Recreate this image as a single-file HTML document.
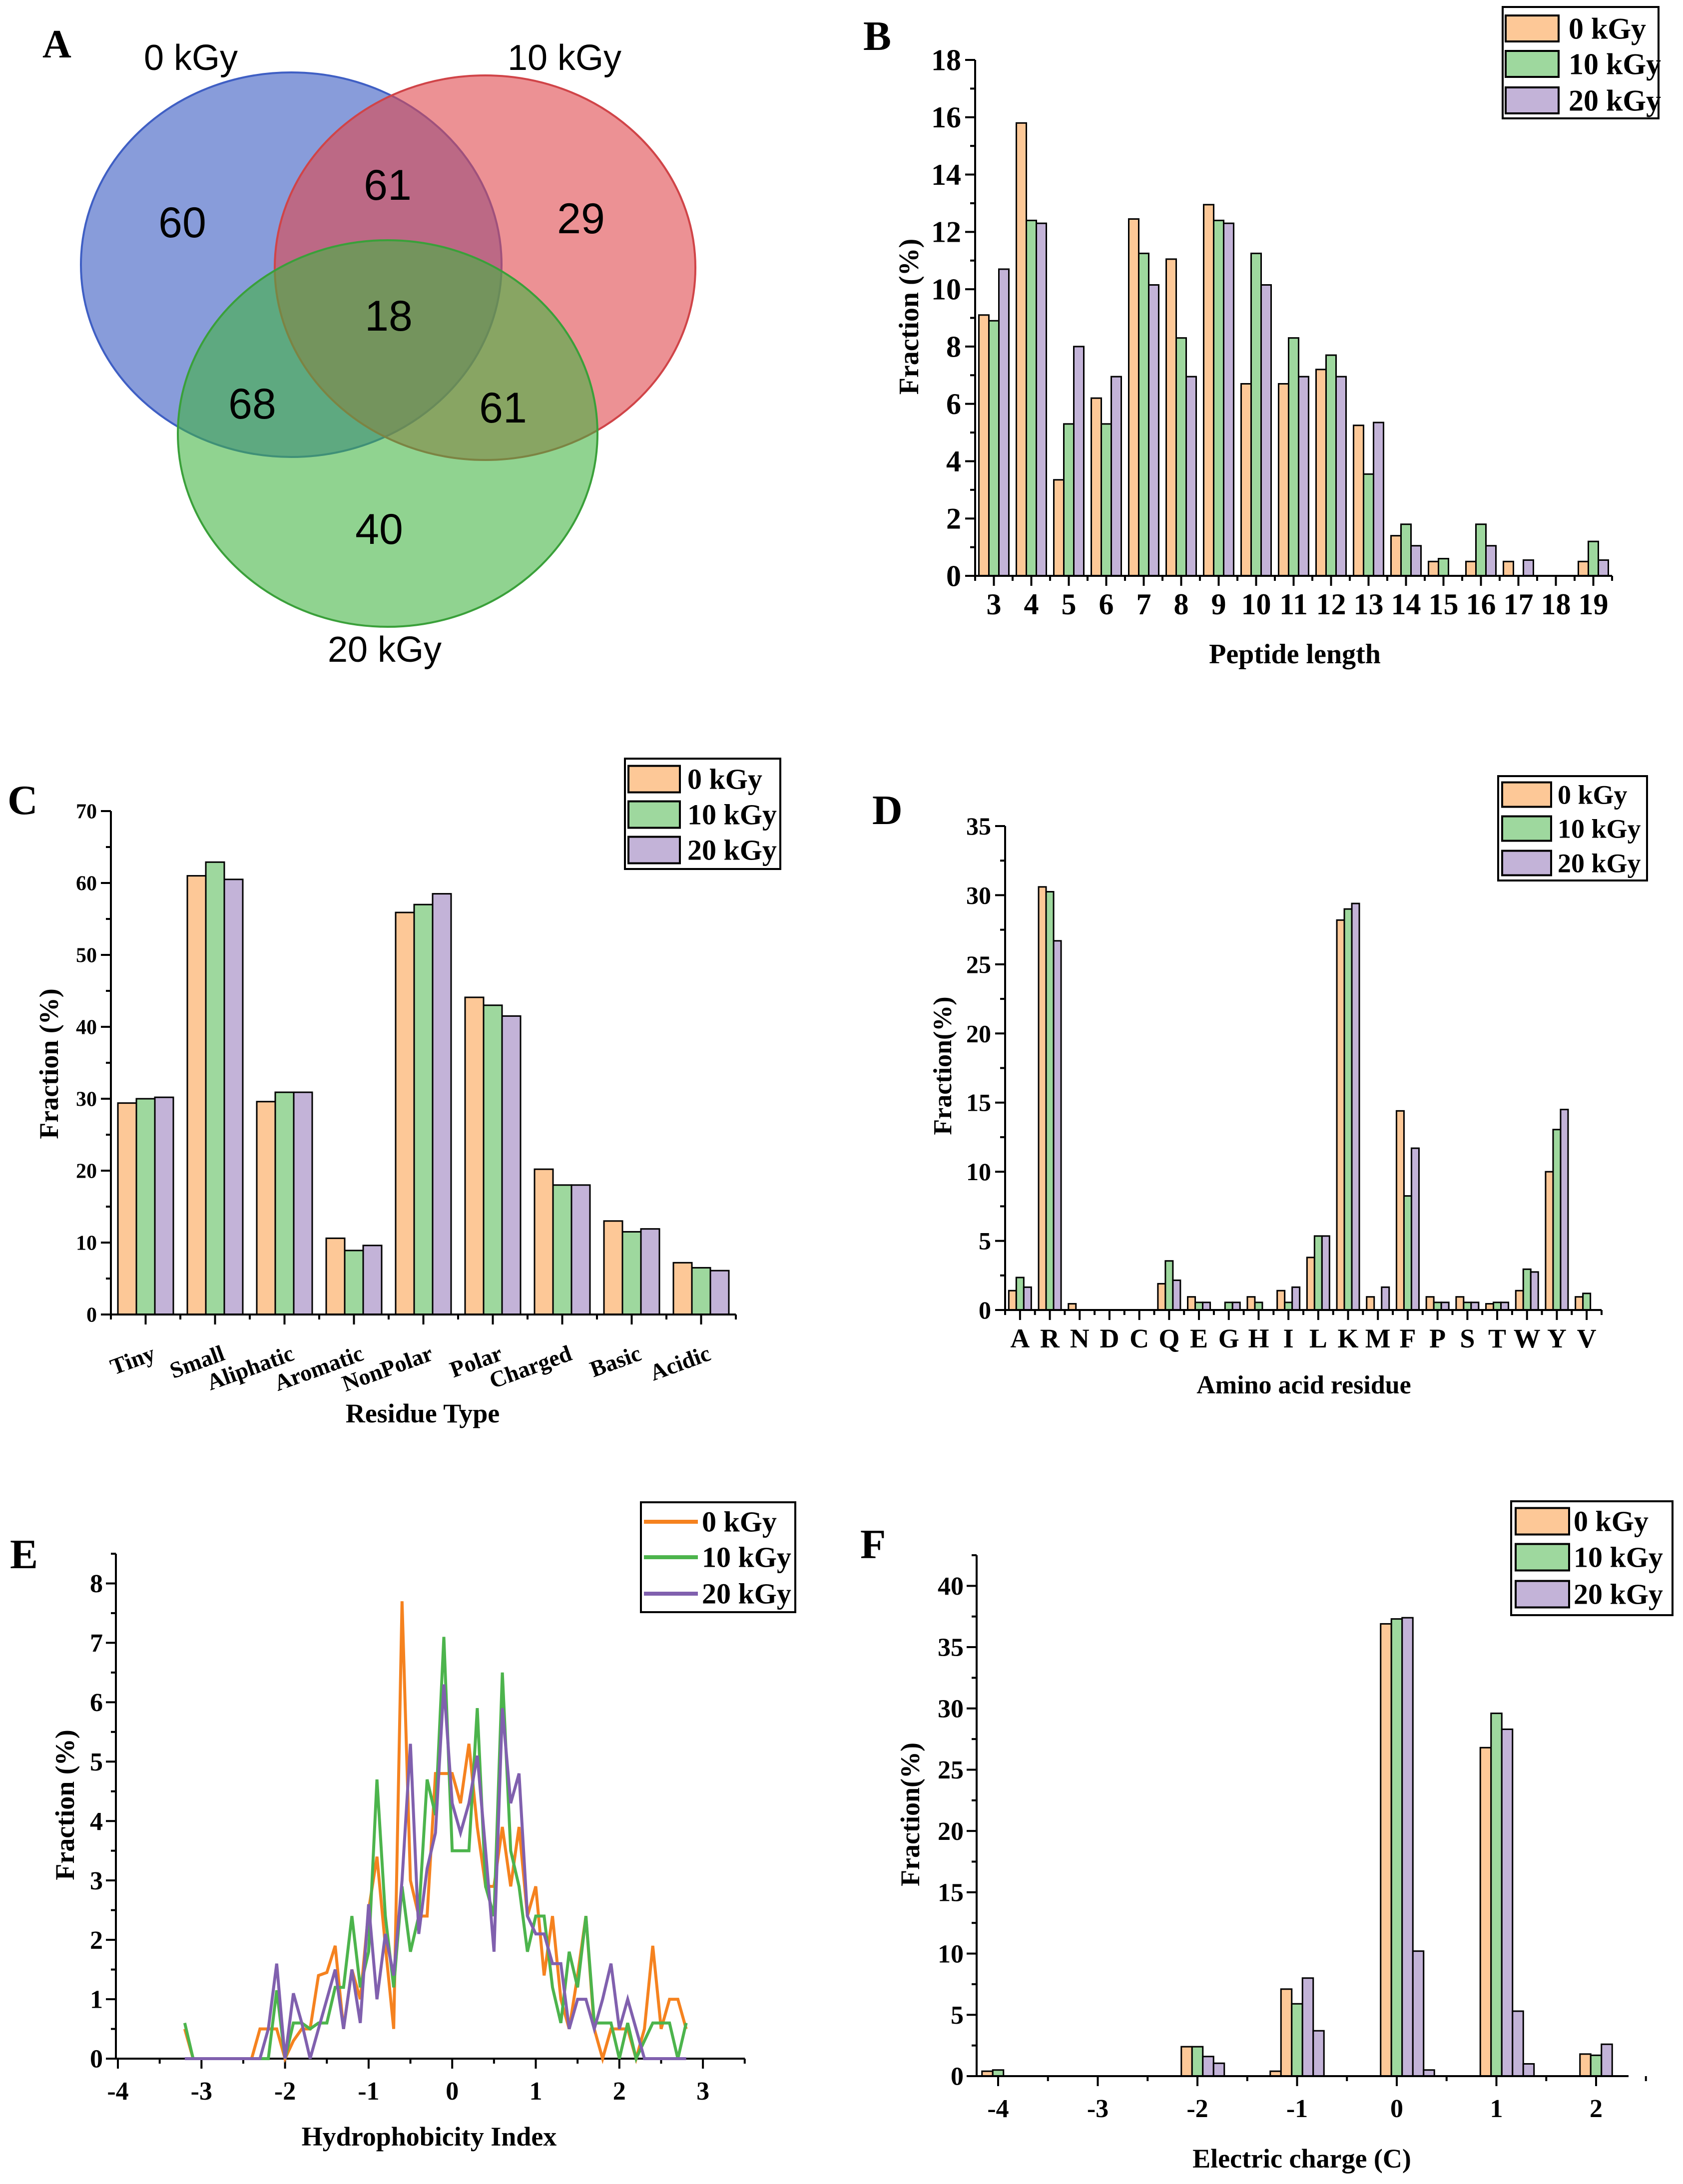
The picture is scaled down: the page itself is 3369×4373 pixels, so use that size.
<!DOCTYPE html>
<html><head><meta charset="utf-8"><style>
html,body{margin:0;padding:0;background:#fff}
svg{display:block}
text{font-family:"Liberation Serif",serif;font-weight:bold;fill:#000}
.sans{font-family:"Liberation Sans",sans-serif;font-weight:normal}
</style></head><body>
<svg id="fig" xmlns="http://www.w3.org/2000/svg" width="3369" height="4373" viewBox="0 0 3369 4373">
<g id="venn">
<ellipse cx="583" cy="530" rx="421" ry="385" fill="#3f5fc4" fill-opacity="0.62" stroke="#3f5fc4" stroke-width="4"/>
<ellipse cx="971" cy="536" rx="421" ry="385" fill="#e0484d" fill-opacity="0.6" stroke="#d04448" stroke-width="4"/>
<ellipse cx="776" cy="868" rx="420" ry="387" fill="#3fb43f" fill-opacity="0.58" stroke="#3aa03a" stroke-width="4"/>
<text x="85" y="115" font-size="80">A</text>
<text class="sans" x="382" y="140" font-size="72" text-anchor="middle">0 kGy</text>
<text class="sans" x="1130" y="140" font-size="72" text-anchor="middle">10 kGy</text>
<text class="sans" x="770" y="1325" font-size="72" text-anchor="middle">20 kGy</text>
<text class="sans" x="365" y="475" font-size="86" text-anchor="middle">60</text>
<text class="sans" x="776" y="400" font-size="86" text-anchor="middle">61</text>
<text class="sans" x="1163" y="467" font-size="86" text-anchor="middle">29</text>
<text class="sans" x="778" y="662" font-size="86" text-anchor="middle">18</text>
<text class="sans" x="505" y="838" font-size="86" text-anchor="middle">68</text>
<text class="sans" x="1007" y="846" font-size="86" text-anchor="middle">61</text>
<text class="sans" x="759" y="1089" font-size="86" text-anchor="middle">40</text>
</g>
</svg>
<script>
var COLORS=['#FDC897','#9ED89E','#C3B3D8'];
var LINECOLORS=['#F5821F','#4CB44C','#8060AE'];
var SERIES=['0 kGy','10 kGy','20 kGy'];
// Panel B
var bCats=['3','4','5','6','7','8','9','10','11','12','13','14','15','16','17','18','19'];
var b0=[9.1,15.8,3.35,6.2,12.45,11.05,12.95,6.7,6.7,7.2,5.25,1.4,0.5,0.5,0.5,0,0.5];
var b10=[8.9,12.4,5.3,5.3,11.25,8.3,12.4,11.25,8.3,7.7,3.55,1.8,0.6,1.8,0,0,1.2];
var b20=[10.7,12.3,8.0,6.95,10.15,6.95,12.3,10.15,6.95,6.95,5.35,1.05,0,1.05,0.55,0,0.55];
var bYTicks=[0,2,4,6,8,10,12,14,16,18];
// Panel C
var cCats=['Tiny','Small','Aliphatic','Aromatic','NonPolar','Polar','Charged','Basic','Acidic'];
var c0=[29.4,61,29.6,10.6,55.9,44.1,20.2,13,7.2];
var c10=[30,62.9,30.9,8.9,57,43,18,11.5,6.5];
var c20=[30.2,60.5,30.9,9.6,58.5,41.5,18,11.9,6.1];
var cYTicks=[0,10,20,30,40,50,60,70];
// Panel D
var dCats=['A','R','N','D','C','Q','E','G','H','I','L','K','M','F','P','S','T','W','Y','V'];
var d0=[1.4,30.6,0.45,0,0,1.9,0.95,0,0.95,1.4,3.8,28.2,0.95,14.4,0.95,0.95,0.45,1.4,10.0,0.95];
var d10=[2.35,30.25,0,0,0,3.55,0.55,0.55,0.55,0.55,5.35,29.0,0,8.25,0.55,0.55,0.55,2.95,13.05,1.2];
var d20=[1.65,26.7,0,0,0,2.15,0.55,0.55,0,1.65,5.35,29.4,1.65,11.7,0.55,0.55,0.55,2.75,14.5,0];
var dYTicks=[0,5,10,15,20,25,30,35];
// Panel E
var eX=[-3.2,-3.1,-3.0,-2.9,-2.8,-2.7,-2.6,-2.5,-2.4,-2.3,-2.2,-2.1,-2.0,-1.9,-1.8,-1.7,-1.6,-1.5,-1.4,-1.3,-1.2,-1.1,-1.0,-0.9,-0.8,-0.7,-0.6,-0.5,-0.4,-0.3,-0.2,-0.1,0,0.1,0.2,0.3,0.4,0.5,0.6,0.7,0.8,0.9,1.0,1.1,1.2,1.3,1.4,1.5,1.6,1.7,1.8,1.9,2.0,2.1,2.2,2.3,2.4,2.5,2.6,2.7,2.8];
var e0=[0.5,0,0,0,0,0,0,0,0,0.5,0.5,0.5,0,0.3,0.5,0.5,1.4,1.45,1.9,0.5,1.5,1.0,2.5,3.4,1.9,0.5,7.7,3.0,2.4,2.4,4.8,4.8,4.8,4.3,5.3,3.9,2.9,2.9,3.9,2.9,3.9,2.4,2.9,1.4,2.4,1.0,0.5,1.4,2.4,0.5,0,0.5,0.5,0.5,0,0.5,1.9,0.5,1.0,1.0,0.5];
var e10=[0.6,0,0,0,0,0,0,0,0,0,0,1.15,0,0.6,0.6,0.5,0.6,0.6,1.2,1.2,2.4,1.2,1.8,4.7,2.4,1.2,2.9,1.8,2.4,4.7,4.1,7.1,3.5,3.5,3.5,5.9,2.9,2.4,6.5,3.5,2.9,1.8,2.4,2.4,1.2,0.6,1.8,1.2,2.4,0.6,0.6,0.6,0,0.6,0,0.3,0.6,0.6,0.6,0,0.6];
var e20=[0,0,0,0,0,0,0,0,0,0,0.5,1.6,0,1.1,0.6,0,0.5,1.0,1.5,0.5,1.5,0.6,2.6,1.0,2.1,1.4,3.0,5.3,2.1,3.2,3.8,6.3,4.3,3.8,4.3,5.1,3.5,1.8,5.9,4.3,4.8,2.4,2.1,2.1,1.6,1.6,0.5,1.0,1.0,0.5,1.0,1.6,0.5,1.0,0.5,0,0,0,0,0,0];
var eXTicks=[-4,-3,-2,-1,0,1,2,3];
var eYTicks=[0,1,2,3,4,5,6,7,8];
// Panel F (bars: charge bin, slot within bin, series index, value)
var fCharge=[-4,-4,-2,-2,-2,-2,-1,-1,-1,-1,-1,0,0,0,0,0,1,1,1,1,1,2,2,2];
var fSlot=[-1,0,-1,0,1,2,-2,-1,0,1,2,-1,0,1,2,3,-1,0,1,2,3,-1,0,1];
var fSeries=[0,1,0,1,2,2,0,0,1,2,2,0,1,2,2,2,0,1,2,2,2,0,1,2];
var fValue=[0.4,0.5,2.4,2.4,1.6,1.05,0.4,7.1,5.9,8.0,3.7,36.9,37.3,37.4,10.2,0.5,26.8,29.6,28.3,5.3,1.0,1.8,1.7,2.6];
var fXTicks=[-4,-3,-2,-1,0,1,2];
var fYTicks=[0,5,10,15,20,25,30,35,40];

var NS='http://www.w3.org/2000/svg';
var svg=document.getElementById('fig');
function mk(tag,parent){var e=document.createElementNS(NS,tag);parent.appendChild(e);return e;}
function attrs(e,o){for(var k in o)e.setAttribute(k,o[k]);return e;}
function line(p,x1,y1,x2,y2,w){return attrs(mk('line',p),{x1:x1,y1:y1,x2:x2,y2:y2,stroke:'#000','stroke-width':w||4});}
function txt(p,x,y,s,size,anchor){var t=mk('text',p);attrs(t,{x:x,y:y,'font-size':size,'text-anchor':anchor||'middle'});t.textContent=s;return t;}

function yAxis(g,ax,y0,yTop,vmax,ticks,minorStep,fs,labelX){
  var l=line(g,ax,y0,ax,yTop);
  
  
  var ys=function(v){return y0-(v/vmax)*(y0-yTop);};
  for(var v=0;v<=vmax+1e-9;v+=minorStep){
    var major=ticks.some(function(t){return Math.abs(t-v)<1e-6;});
    var tk=line(g,ax-(major?20:10),ys(v),ax,ys(v),4);
    
    
  }
  ticks.forEach(function(t){
    var tl=txt(g,labelX,ys(t)+fs*0.34,String(t),fs,'end');
    
    
  });
  return ys;
}
function legend(g,box,rowsY,swX,swW,swH,textX,fs,isLine){
  var r=attrs(mk('rect',g),{x:box[0],y:box[1],width:box[2]-box[0],height:box[3]-box[1],fill:'#fff',stroke:'#000','stroke-width':4});
  
  
  for(var i=0;i<3;i++){
    var s;
    if(isLine){s=attrs(mk('line',g),{x1:swX,x2:swX+swW,y1:rowsY[i],y2:rowsY[i],stroke:LINECOLORS[i],'stroke-width':8});}
    else{s=attrs(mk('rect',g),{x:swX,y:rowsY[i]-swH/2,width:swW,height:swH,fill:COLORS[i],stroke:'#000','stroke-width':4});}
    
    
    var t=txt(g,textX,rowsY[i]+fs*0.34,SERIES[i],fs,'start');
    
    
  }
}
function barChart(o){
  var g=mk('g',svg);
  
  
  var n=o.cats.length, step=(o.right-o.ax)/n;
  var ys=yAxis(g,o.ax,o.y0,o.yTop,o.vmax,o.yTicks,o.minor,o.yfs,o.ax-28);
  var xl=line(g,o.ax,o.y0,o.right,o.y0);
  
  
  var xs=function(i){return o.ax+step*(i+0.5);};
  for(var i=0;i<=n;i++){
    var mt=line(g,o.ax+step*i,o.y0,o.ax+step*i,o.y0+10,4);
    
    
  }
  o.cats.forEach(function(c,i){
    var tk=line(g,xs(i),o.y0,xs(i),o.y0+20,4);
    
    
    var t;
    if(o.rotate){t=txt(g,xs(i)+22,o.labelY,c,o.xfs,'end');t.setAttribute('transform','rotate(-20 '+(xs(i)+22)+' '+o.labelY+')');}
    else t=txt(g,xs(i),o.labelY,c,o.xfs,'middle');
    
    
  });
  o.series.forEach(function(arr,s){
    arr.forEach(function(v,i){
      if(v<=0)return;
      var x=xs(i)+(s-1.5)*o.bw;
      var r=attrs(mk('rect',g),{x:x,y:ys(v),width:o.bw,height:o.y0-ys(v),fill:COLORS[s],stroke:'#000','stroke-width':3});
      
      
    });
  });
  line(g,o.ax,o.y0,o.right,o.y0);
  var pl=txt(g,o.panel[1],o.panel[2],o.panel[0],84,'start');
  
  
  var xt=txt(g,o.xTitle[1],o.xTitle[2],o.xTitle[0],o.tfs,'middle');
  
  
  var yt=txt(g,0,0,o.yTitle[0],o.tfs,'middle');
  yt.setAttribute('transform','translate('+o.yTitle[1]+' '+o.yTitle[2]+') rotate(-90)');
  
  
  legend(g,o.lg.box,o.lg.rows,o.lg.swX,o.lg.swW,o.lg.swH,o.lg.tx,o.lg.fs,false);
}
barChart({name:'chart-peptide-length',key:'b',cats:bCats,series:[b0,b10,b20],ax:1952,right:3227,y0:1153,yTop:120,vmax:18,yTicks:bYTicks,minor:1,yfs:60,xfs:60,labelY:1230,bw:20,
 panel:['B',1728,100],xTitle:['Peptide length',2592,1328],yTitle:['Fraction (%)',1838,634],tfs:56,
 lg:{box:[3008,14,3320,237],rows:[57,128,201],swX:3014,swW:106,swH:52,tx:3140,fs:60}});
barChart({name:'chart-residue-type',key:'c',cats:cCats,series:[c0,c10,c20],ax:222,right:1473,y0:2632,yTop:1624,vmax:70,yTicks:cYTicks,minor:5,yfs:42,xfs:46,labelY:2722,bw:37,rotate:true,
 panel:['C',15,1630],xTitle:['Residue Type',846,2848],yTitle:['Fraction (%)',116,2130],tfs:54,
 lg:{box:[1251,1519,1562,1740],rows:[1560,1631,1702],swX:1258,swW:103,swH:53,tx:1376,fs:58}});
barChart({name:'chart-amino-acid',key:'d',cats:dCats,series:[d0,d10,d20],ax:2012,right:3206,y0:2623,yTop:1654,vmax:35,yTicks:dYTicks,minor:2.5,yfs:50,xfs:54,labelY:2698,bw:15,
 panel:['D',1746,1650],xTitle:['Amino acid residue',2610,2790],yTitle:['Fraction(%)',1904,2134],tfs:52,
 lg:{box:[2999,1554,3297,1763],rows:[1591,1659,1728],swX:3007,swW:98,swH:49,tx:3118,fs:54}});

// Panel E line chart
(function(){
  var g=mk('g',svg);
  
  
  var ax=232,y0=4122,yTop=3111,right=1491;
  var xs=function(v){return 236+(v+4)*167.3;};
  var ys=yAxis(g,ax,y0,yTop,8.5,eYTicks,0.5,52,ax-26);
  var xl=line(g,ax,y0,right,y0);
  
  
  for(var v=-4;v<=3.5;v+=0.5){
    var major=Math.abs(v-Math.round(v))<1e-6;
    var tk=line(g,xs(v),y0,xs(v),y0+(major?20:10),4);
    
    
  }
  eXTicks.forEach(function(t){
    var tl=txt(g,xs(t),y0+82,String(t),52,'middle');
    
    
  });
  [e0,e10,e20].forEach(function(arr,s){
    var d='';
    arr.forEach(function(v,i){d+=(i?'L':'M')+xs(eX[i]).toFixed(1)+' '+ys(v).toFixed(1);});
    var p=attrs(mk('path',g),{d:d,fill:'none',stroke:LINECOLORS[s],'stroke-width':6,'stroke-linejoin':'miter'});
    
    
  });
  var pl=txt(g,20,3140,'E',84,'start');
  
  
  var xt=txt(g,859,4296,'Hydrophobicity Index',54,'middle');
  
  
  var yt=txt(g,0,0,'Fraction (%)',54,'middle');
  yt.setAttribute('transform','translate(148 3614) rotate(-90)');
  
  
  legend(g,[1283,3008,1592,3228],[3047,3118,3191],1289,108,0,1405,58,true);
})();

// Panel F histogram bars
(function(){
  var g=mk('g',svg);
  
  
  var ax=1955,y0=4157,yTop=3114,right=3260,bw=21.5;
  var xs=function(v){return 1998+(v+4)*199.5;};
  var ys=yAxis(g,ax,y0,yTop,42.5,fYTicks,2.5,52,ax-26);
  for(var v=-4.5;v<=2.5;v+=0.5){
    if(xs(v)<ax)continue;
    var major=Math.abs(v-Math.round(v))<1e-6;
    var tk=line(g,xs(v),y0,xs(v),y0+(major?20:10),4);
    
    
  }
  fXTicks.forEach(function(t){
    var tl=txt(g,xs(t),y0+82,String(t),52,'middle');
    
    
  });
  fValue.forEach(function(v,i){
    var cx=xs(fCharge[i])+fSlot[i]*bw;
    var r=attrs(mk('rect',g),{x:cx-bw/2,y:ys(v),width:bw,height:y0-ys(v),fill:COLORS[fSeries[i]],stroke:'#000','stroke-width':3});
    
    
  });
  var xl=line(g,ax,y0,right,y0);
  
  
  var pl=txt(g,1722,3120,'F',84,'start');
  
  
  var xt=txt(g,2606,4340,'Electric charge (C)',54,'middle');
  
  
  var yt=txt(g,0,0,'Fraction(%)',54,'middle');
  yt.setAttribute('transform','translate(1840 3633) rotate(-90)');
  
  
  legend(g,[3025,3006,3348,3234],[3046,3118,3192],3034,107,53,3150,58,false);
})();
</script>
</body></html>
